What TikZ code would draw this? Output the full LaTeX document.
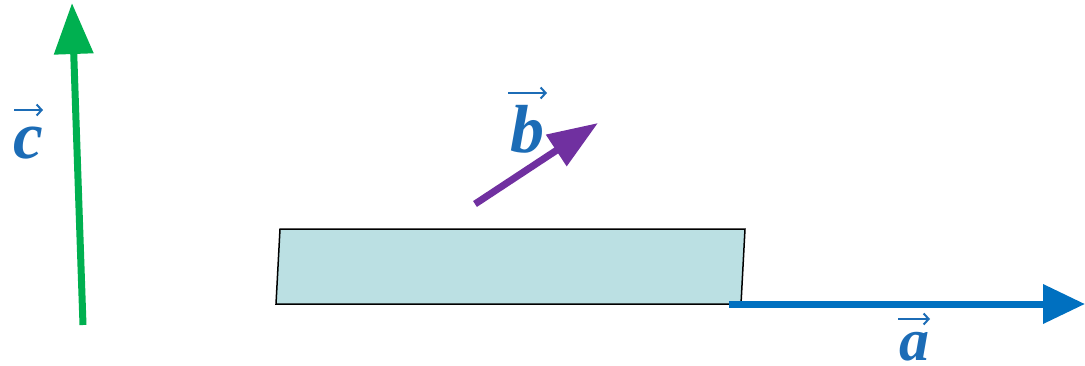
\documentclass[tikz,border=0pt]{standalone}
\usepackage{fontspec}
\setmainfont{Liberation Serif}
\usetikzlibrary{arrows.meta}
\definecolor{vgreen}{RGB}{0,176,80}
\definecolor{vblue}{RGB}{0,112,192}
\definecolor{vpurple}{RGB}{112,48,160}
\definecolor{labblue}{RGB}{28,108,182}
\definecolor{slab}{RGB}{187,224,227}
\begin{document}
\begin{tikzpicture}[x=1pt,y=-1pt,
  vec/.style={line width=7pt,line cap=butt},
  lab/.style={text=labblue,anchor=base,inner sep=0pt,font=\bfseries\itshape},
  accent/.style={draw=labblue,line width=2.4pt,-{Straight Barb[length=5pt,width=11pt,line width=2pt]}},
  slabstyle/.style={fill=slab,draw=black,line width=1.5pt,line join=miter}]
\useasboundingbox (0,0) rectangle (1085,365);
% slab
\coordinate (s1) at (280,229);
\coordinate (s2) at (745,229);
\coordinate (s3) at (741,304);
\coordinate (s4) at (276,304);
\draw[slabstyle] (s1) -- (s2) -- (s3) -- (s4) -- cycle;
% vector c
\coordinate (c0) at (83,325);
\coordinate (c1) at (72,3);
\draw[vec,draw=vgreen,-{Triangle[length=51pt,width=38pt]}] (c0) -- (c1);
% vector b
\coordinate (b0) at (475,204);
\coordinate (b1) at (598,123);
\draw[vec,draw=vpurple,-{Triangle[length=50pt,width=36pt]}] (b0) -- (b1);
% vector a
\coordinate (a0) at (729,304);
\coordinate (a1) at (1085,304);
\draw[vec,draw=vblue,-{Triangle[length=42pt,width=38pt]}] (a0) -- (a1);
% labels
\node[lab] (lc) at (28,158) {\fontsize{67}{67}\selectfont c};
\node[lab] (lb) at (527,152) {\fontsize{68}{68}\selectfont b};
\node[lab] (la) at (914,360) {\fontsize{60}{60}\selectfont a};
% vector accents over the labels
\draw[accent] ([shift={(-14,-48)}]lc.base) -- ([shift={(15,-48)}]lc.base);
\draw[accent] ([shift={(-19,-59)}]lb.base) -- ([shift={(20,-59)}]lb.base);
\draw[accent] ([shift={(-16,-41)}]la.base) -- ([shift={(16,-41)}]la.base);
\end{tikzpicture}
\end{document}
